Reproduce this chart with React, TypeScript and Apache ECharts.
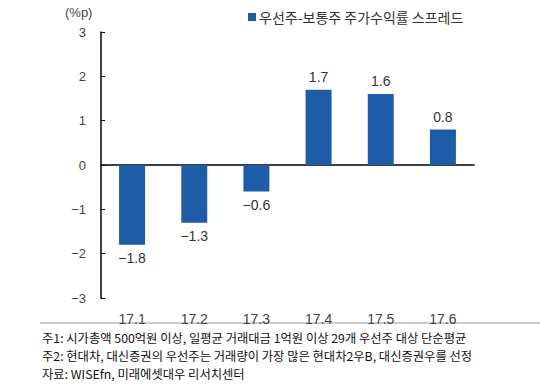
import React, { useEffect, useRef } from "react";
import * as echarts from "echarts";

const categories = ["17.1", "17.2", "17.3", "17.4", "17.5", "17.6"];
const spread = [-1.8, -1.3, -0.6, 1.7, 1.6, 0.8];
const seriesName = "우선주-보통주 주가수익률 스프레드";
const unitLabel = "(%p)";
const notes = [
  "주1: 시가총액 500억원 이상, 일평균 거래대금 1억원 이상 29개 우선주 대상 단순평균",
  "주2: 현대차, 대신증권의 우선주는 거래량이 가장 많은 현대차2우B, 대신증권우를 선정",
  "자료: WISEfn, 미래에셋대우 리서치센터",
];

const FONT = "'Noto Sans CJK KR', 'Noto Sans', sans-serif";
const NUM = "Arial, 'Liberation Sans', sans-serif";
const fmt = (v: number, d: number) => (v < 0 ? "\u2212" + Math.abs(v).toFixed(d) : v.toFixed(d));

export default function App() {
  const ref = useRef<HTMLDivElement>(null);
  useEffect(() => {
    if (!ref.current) return;
    const chart = echarts.init(ref.current, undefined, { renderer: "svg" });
    chart.setOption({
      animation: false,
      textStyle: { fontFamily: FONT },
      grid: { left: 101, right: 66, top: 32, bottom: 91 },
      legend: {
        data: [seriesName],
        left: 243,
        top: 5,
        itemWidth: 8,
        itemHeight: 8,
        itemGap: 4,
        icon: "rect",
        textStyle: { fontSize: 14, color: "#333", fontFamily: FONT, padding: [0, 0, 0, -2] },
      },
      xAxis: [
        {
          type: "category",
          data: categories,
          axisLine: { onZero: true, lineStyle: { color: "#000", width: 1.5 } },
          axisTick: { inside: true, length: 4, lineStyle: { color: "#000" } },
          axisLabel: { show: false },
        },
        {
          type: "category",
          data: categories,
          position: "bottom",
          axisLine: { show: false, onZero: false },
          axisTick: { show: false },
          axisLabel: { color: "#444", fontSize: 14, margin: 14, fontFamily: NUM },
        },
      ],
      yAxis: {
        type: "value",
        min: -3,
        max: 3,
        interval: 1,
        splitLine: { show: false },
        axisLine: { show: true, lineStyle: { color: "#000", width: 1.5 } },
        axisTick: { show: true, inside: true, length: 4, lineStyle: { color: "#000" } },
        axisLabel: { color: "#444", fontSize: 13, margin: 15, fontFamily: NUM, formatter: (v: number) => fmt(v, 0) },
      },
      series: [
        {
          name: seriesName,
          type: "bar",
          data: spread,
          barWidth: 26,
          itemStyle: { color: "#1f5ca8" },
          label: {
            show: true,
            position: "outside",
            color: "#333",
            fontSize: 14,
            distance: 6,
            fontFamily: NUM,
            formatter: (p: any) => fmt(p.value, 1),
          },
        },
      ],
      graphic: [
        {
          type: "text",
          left: 65,
          top: 6,
          style: { text: unitLabel, fontSize: 13, fill: "#444", fontFamily: NUM },
        },
        {
          type: "line",
          shape: { x1: 40, y1: 323, x2: 540, y2: 323 },
          style: { stroke: "#999", lineWidth: 1 },
        },
        ...notes.map((t, i) => ({
          type: "text",
          left: 42,
          top: 330 + i * 18,
          style: { text: t, fontSize: 12.3, lineHeight: 16, fill: "#111", fontFamily: FONT },
        })),
      ],
    });
    return () => chart.dispose();
  }, []);
  return <div ref={ref} style={{ width: 540, height: 389, position: "absolute", left: 0, top: 0 }} />;
}
